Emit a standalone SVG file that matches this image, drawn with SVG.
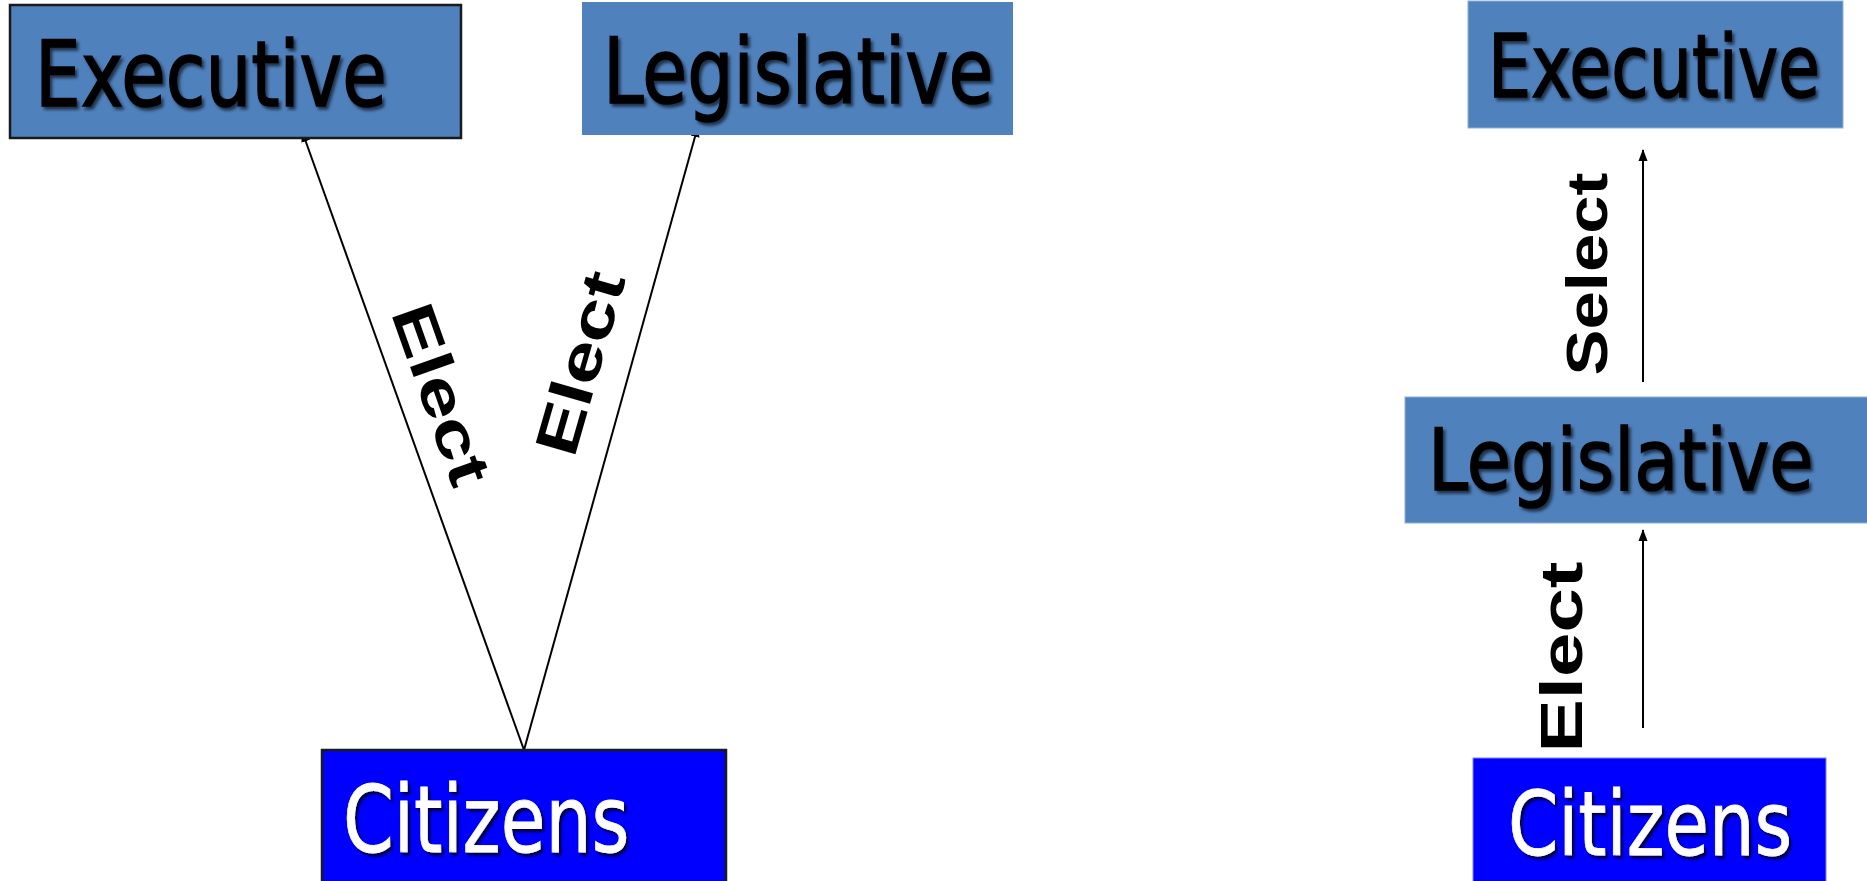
<svg xmlns="http://www.w3.org/2000/svg" width="1867" height="881" viewBox="0 0 1867 881">
<style>
.box{fill:#4F81BD}
.bd{stroke:#1a1a1a;stroke-width:2.5}
.cit{fill:#0000FF}
.t{font-family:"DejaVu Sans",Verdana,sans-serif;fill:#000;stroke:#000;stroke-width:1.6}
.tw{font-family:"DejaVu Sans",Verdana,sans-serif;fill:#fff;stroke:#fff;stroke-width:0.8}
.lbl{font-family:"Liberation Sans",Arial,sans-serif;font-weight:bold;fill:#000;text-anchor:middle}
.cn{stroke:#000;stroke-width:2;fill:none;marker-end:url(#ah)}
</style>
<defs>
<marker id="ah" markerUnits="userSpaceOnUse" markerWidth="12" markerHeight="10" refX="11" refY="5" orient="auto">
<path d="M0,0.5 L12,5 L0,9.5 z" fill="#000"/>
</marker>
<filter id="sh" x="-10%" y="-20%" width="130%" height="150%">
<feDropShadow dx="3" dy="3" stdDeviation="1.6" flood-color="#000" flood-opacity="0.75"/>
</filter>
<filter id="shd" x="-10%" y="-20%" width="130%" height="150%">
<feDropShadow dx="3" dy="3" stdDeviation="1.8" flood-color="#000" flood-opacity="0.6"/>
</filter>
</defs>
<rect width="1867" height="881" fill="#fff"/>

<g id="connectors">
<line class="cn" x1="524" y1="750" x2="302" y2="131"/>
<line class="cn" x1="524" y1="750" x2="698" y2="126"/>
<line class="cn" x1="1643" y1="382" x2="1643" y2="150"/>
<line class="cn" x1="1643" y1="728" x2="1643" y2="530"/>
<text class="lbl" font-size="60" textLength="188" lengthAdjust="spacingAndGlyphs" transform="translate(422,401) rotate(70.5)">Elect</text>
<text class="lbl" font-size="60" textLength="188" lengthAdjust="spacingAndGlyphs" transform="translate(600,369) rotate(-74)">Elect</text>
<text class="lbl" font-size="58" textLength="203" lengthAdjust="spacingAndGlyphs" transform="translate(1607,274) rotate(-90)">Select</text>
<text class="lbl" font-size="60" textLength="191" lengthAdjust="spacingAndGlyphs" transform="translate(1582,657) rotate(-90)">Elect</text>
</g>

<g id="exec-left">
<rect class="box bd" x="10" y="5" width="451" height="133"/>
<text class="t" font-size="90" transform="translate(35,106) scale(0.803,1)" filter="url(#shd)">Executive</text>
</g>

<g id="legis-left">
<rect class="box" x="582" y="2" width="431" height="133"/>
<text class="t" font-size="90" transform="translate(603,103) scale(0.81,1)" filter="url(#shd)">Legislative</text>
</g>

<g id="citizens-left">
<rect class="cit bd" x="322" y="750" width="404" height="140"/>
<text class="tw" font-size="92" transform="translate(343,852) scale(0.79,1)" filter="url(#sh)">Citizens</text>
</g>

<g id="exec-right">
<rect class="box" x="1468" y="1" width="375" height="127" stroke="#8fb0d8" stroke-width="1"/>
<text class="t" font-size="88" transform="translate(1488,97) scale(0.775,1)" filter="url(#shd)">Executive</text>
</g>

<g id="legis-right">
<rect class="box" x="1405" y="397" width="470" height="126" stroke="#8fb0d8" stroke-width="1"/>
<text class="t" font-size="86" transform="translate(1428,490) scale(0.837,1)" filter="url(#shd)">Legislative</text>
</g>

<g id="citizens-right">
<rect class="cit" x="1473" y="758" width="353" height="130" stroke="#8080ff" stroke-width="1"/>
<text class="tw" font-size="89" transform="translate(1508,855) scale(0.81,1)" filter="url(#sh)">Citizens</text>
</g>
</svg>
